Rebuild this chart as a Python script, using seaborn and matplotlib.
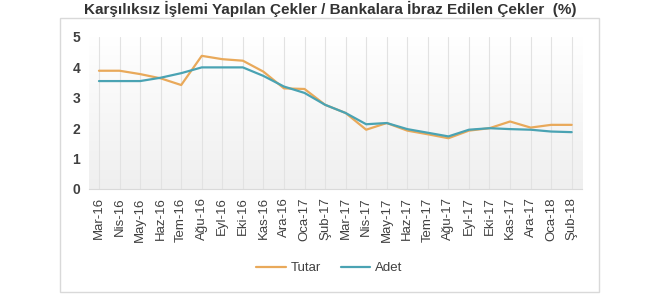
import numpy as np
import pandas as pd
import matplotlib
matplotlib.use("Agg")
import matplotlib.pyplot as plt
import seaborn as sns
from matplotlib.patches import Rectangle

months = ["Mar-16", "Nis-16", "May-16", "Haz-16", "Tem-16", "Ağu-16", "Eyl-16", "Eki-16",
          "Kas-16", "Ara-16", "Oca-17", "Şub-17", "Mar-17", "Nis-17", "May-17", "Haz-17",
          "Tem-17", "Ağu-17", "Eyl-17", "Eki-17", "Kas-17", "Ara-17", "Oca-18", "Şub-18"]
tutar = [3.89, 3.89, 3.78, 3.64, 3.42, 4.38, 4.27, 4.22, 3.86, 3.31, 3.29, 2.77,
         2.50, 1.95, 2.17, 1.92, 1.80, 1.67, 1.92, 2.00, 2.22, 2.02, 2.11, 2.11]
adet = [3.55, 3.55, 3.55, 3.66, 3.81, 4.00, 4.00, 4.00, 3.72, 3.37, 3.16, 2.77,
        2.50, 2.13, 2.17, 1.97, 1.85, 1.73, 1.95, 2.00, 1.97, 1.95, 1.89, 1.87]
series_names = ["Tutar", "Adet"]
yticks = [0, 1, 2, 3, 4, 5]
title = "Karşılıksız İşlemi Yapılan Çekler / Bankalara İbraz Edilen Çekler  (%)"

df = pd.DataFrame({
    "idx": list(range(len(months))) * 2,
    "value": tutar + adet,
    "series": [series_names[0]] * len(months) + [series_names[1]] * len(months),
})

sns.set_style("white")
plt.rcParams["font.family"] = ["Liberation Sans", "DejaVu Sans"]

fig = plt.figure(figsize=(6.6, 3.0), dpi=100)
ax = fig.add_axes([0.1344, 0.37, 0.7474, 0.5067])

# frame around chart
fig.patches.append(Rectangle((60 / 660, 1 - 292 / 300), (599 - 60) / 660, (292 - 18) / 300,
                             transform=fig.transFigure, fill=False, edgecolor="#d9d9d9",
                             linewidth=1.0, zorder=0))

# gradient background in plot area (grey at bottom, white at top)
grad = np.linspace(0, 1, 256).reshape(-1, 1)
ax.imshow(grad, extent=(-0.5, 23.5, 0, 5), aspect="auto", origin="lower",
          cmap=matplotlib.colors.LinearSegmentedColormap.from_list("g", ["#efefef", "#ffffff"]),
          zorder=0)
for i in range(len(months)):
    ax.axvline(i, color="#e2e2e2", lw=0.8, zorder=1)

palette = {"Tutar": "#e9a95a", "Adet": "#4aa3b3"}
sns.lineplot(data=df, x="idx", y="value", hue="series", palette=palette, ax=ax,
             linewidth=1.6, legend=True, zorder=3)

ax.set_xlim(-0.5, 23.5)
ax.set_ylim(0, 5)
ax.set_yticks(yticks)
ax.set_yticklabels([str(t) for t in yticks], fontsize=10, color="#404040", fontweight="bold")
ax.set_xticks(range(len(months)))
ax.set_xticklabels(months, rotation=90, fontsize=9.5, color="#404040")
ax.tick_params(axis="both", length=0, pad=6)
ax.set_xlabel("")
ax.set_ylabel("")
for s in ["top", "right", "left"]:
    ax.spines[s].set_visible(False)
ax.spines["bottom"].set_color("#d9d9d9")
ax.grid(False)

leg = ax.legend(loc="center", bbox_to_anchor=(0.5 * (60 + 599) / 660, 1 - 268 / 300),
                bbox_transform=fig.transFigure, ncol=2, frameon=False, fontsize=9.5,
                handlelength=2.2, columnspacing=1.5, handletextpad=0.4)
for t in leg.get_texts():
    t.set_color("#404040")

fig.text(330 / 660, 1 - 9 / 300, title, ha="center", va="center", fontsize=11,
         fontweight="bold", color="#333333")

fig.savefig("out.png", dpi=100)
